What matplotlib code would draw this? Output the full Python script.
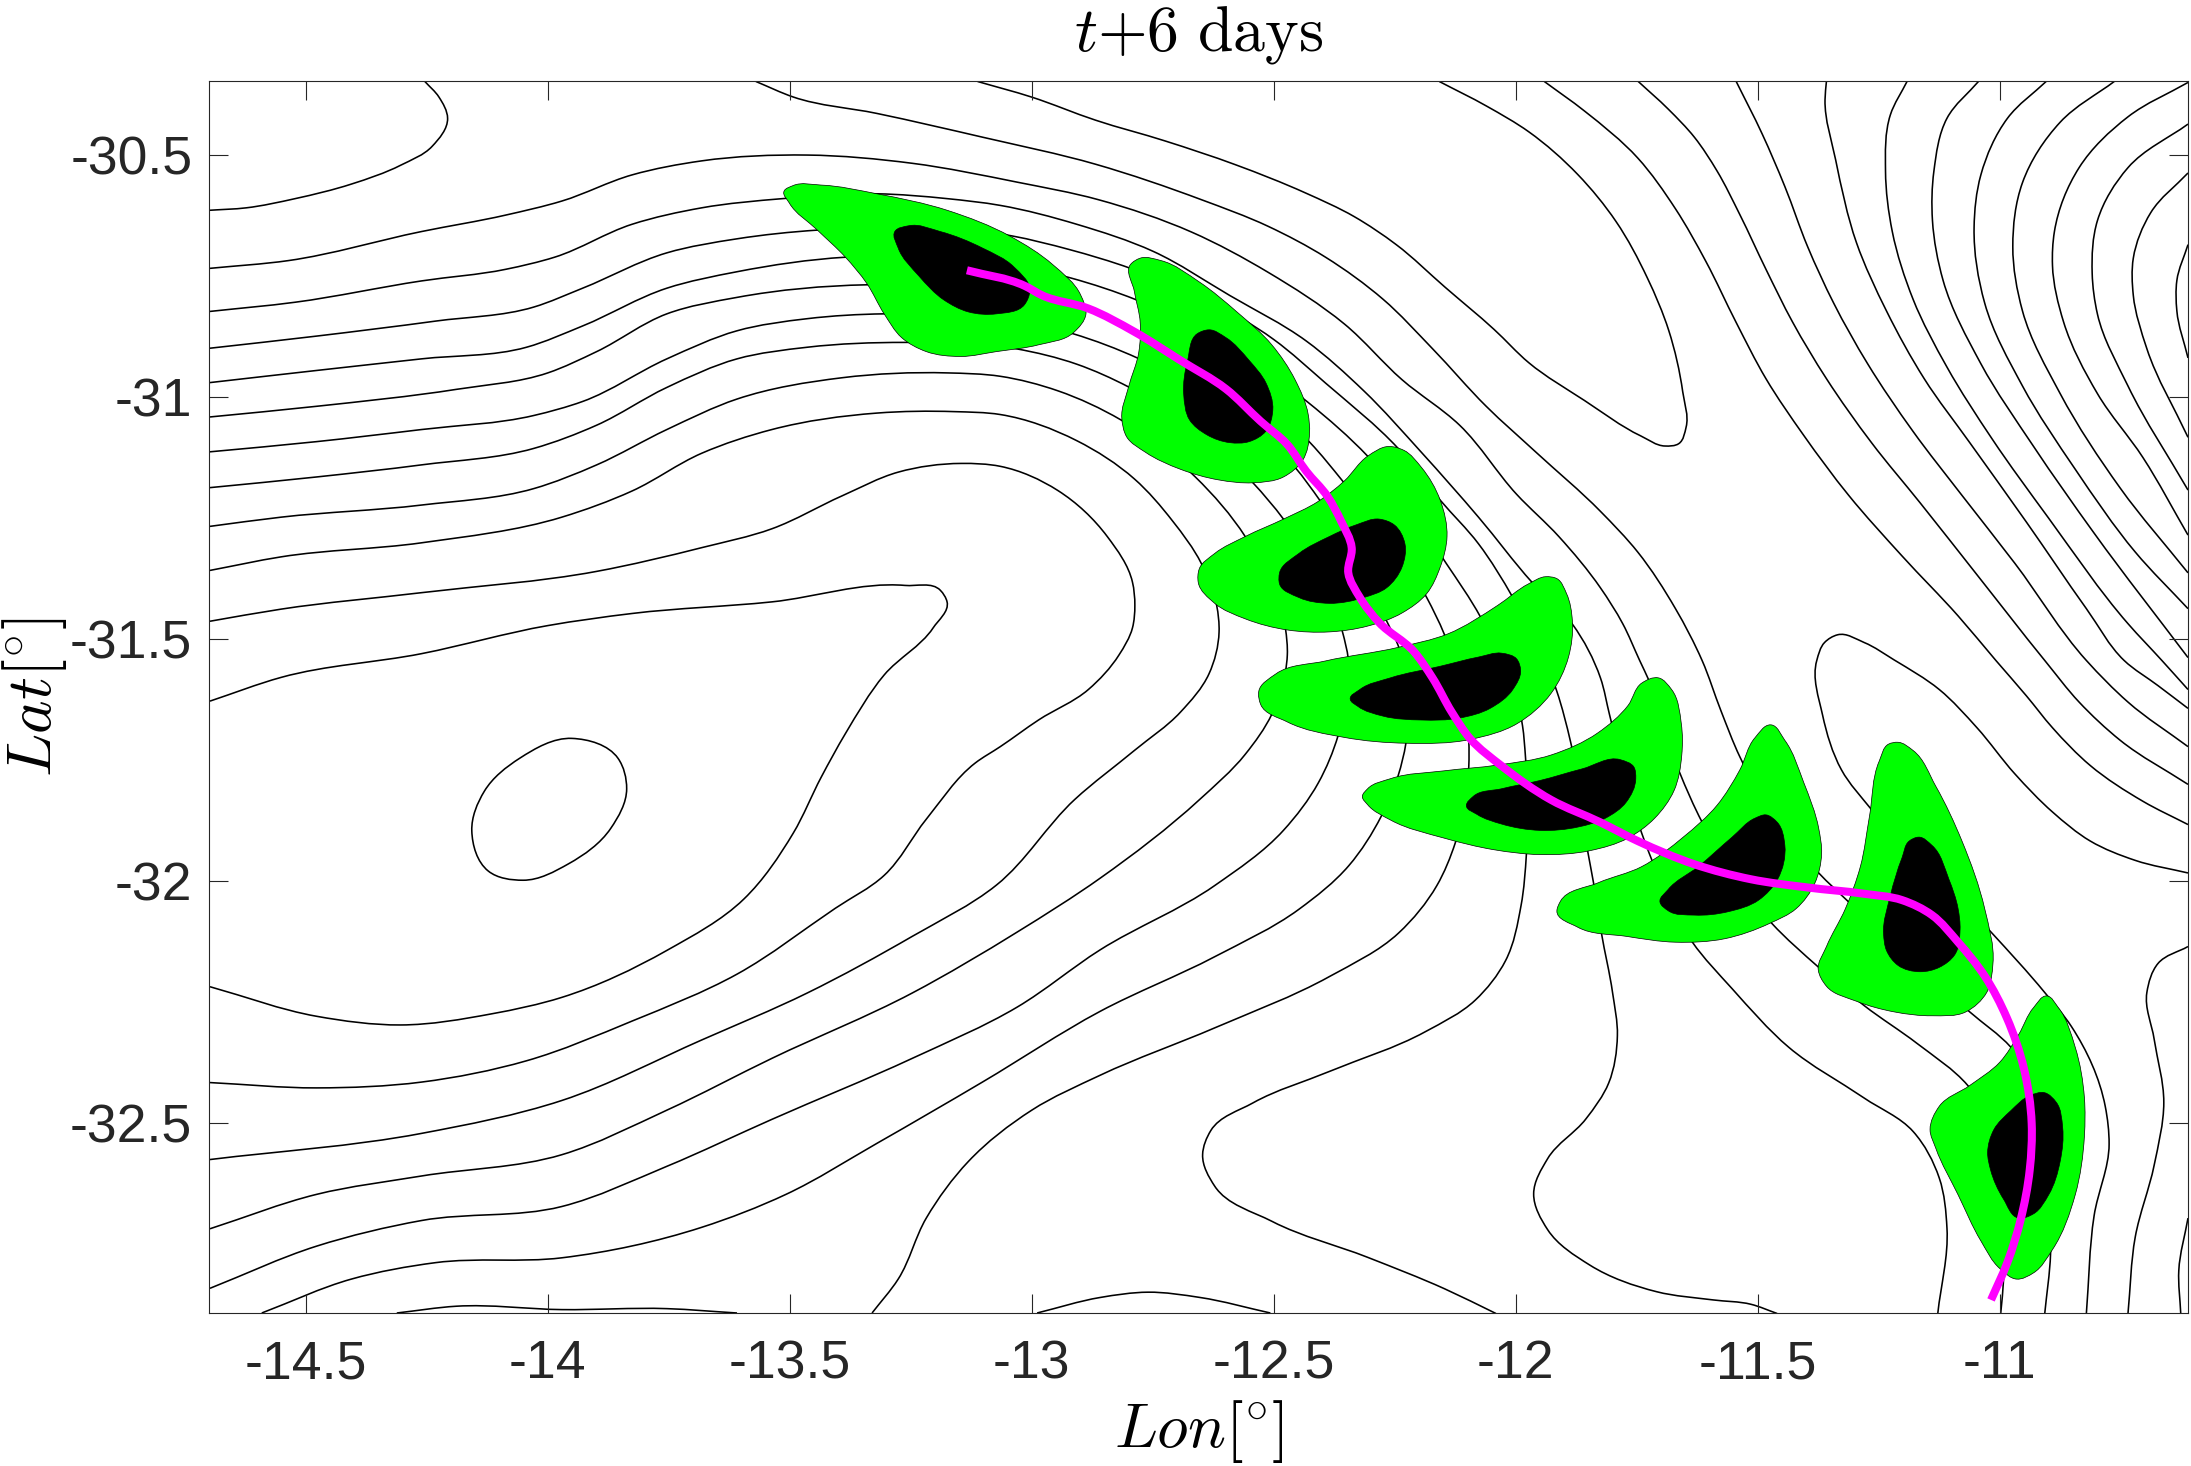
import numpy as np
import matplotlib
matplotlib.use("Agg")
import matplotlib.pyplot as plt
from matplotlib.path import Path
from matplotlib.patches import PathPatch

plt.rcParams['font.family'] = ['Liberation Sans', 'DejaVu Sans']
plt.rcParams['mathtext.fontset'] = 'cm'

# contours, (lon, lat)
c0 = [(-14.698,-30.614),(-14.623,-30.609),(-14.522,-30.590),(-14.406,-30.560),(-14.304,-30.521),(-14.239,-30.482),(-14.207,-30.424),(-14.225,-30.380),(-14.254,-30.348)]
c_tongue = [(-13.112,-30.348),(-13.001,-30.380),(-12.868,-30.428),(-12.724,-30.471),(-12.579,-30.520),(-12.435,-30.578),(-12.334,-30.627),(-12.247,-30.685),(-12.146,-30.773),(-12.045,-30.860),(-11.973,-30.929),(-11.858,-31.007),(-11.742,-31.080),(-11.692,-31.101),(-11.663,-31.096),(-11.648,-31.062),(-11.655,-30.989),(-11.684,-30.862),(-11.728,-30.754),(-11.793,-30.637),(-11.872,-30.540),(-11.973,-30.452),(-12.060,-30.399),(-12.158,-30.348)]
c1 = [(-13.570,-30.348),(-13.493,-30.380),(-13.320,-30.414),(-13.102,-30.463),(-12.868,-30.519),(-12.650,-30.592),(-12.512,-30.647),(-12.393,-30.711),(-12.274,-30.798),(-12.172,-30.900),(-12.061,-31.019),(-11.958,-31.114),(-11.825,-31.236),(-11.748,-31.320),(-11.670,-31.437),(-11.615,-31.544),(-11.576,-31.648),(-11.537,-31.743),(-11.374,-31.983),(-11.312,-32.043),(-11.062,-32.270),(-10.977,-32.343),(-10.895,-32.770),(-10.907,-32.893)]
c_a = [(-14.698,-30.734),(-14.536,-30.718),(-14.261,-30.658),(-14.087,-30.624),(-13.971,-30.595),(-13.826,-30.541),(-13.682,-30.512),(-13.464,-30.500),(-13.247,-30.517),(-13.030,-30.556),(-12.863,-30.592),(-12.670,-30.659),(-12.512,-30.742),(-12.354,-30.849),(-12.235,-30.964),(-12.116,-31.058),(-11.998,-31.201),(-11.911,-31.288),(-11.825,-31.394),(-11.779,-31.468),(-11.744,-31.544),(-11.724,-31.587),(-11.662,-31.774),(-11.615,-31.878),(-11.471,-32.087),(-11.374,-32.178),(-11.280,-32.257),(-11.171,-32.335),(-11.066,-32.422),(-10.992,-32.822),(-10.998,-32.893)]
c_b = [(-14.698,-30.823),(-14.522,-30.804),(-14.261,-30.760),(-14.087,-30.736),(-13.986,-30.711),(-13.826,-30.643),(-13.682,-30.609),(-13.515,-30.590),(-13.320,-30.580),(-13.175,-30.590),(-13.065,-30.604),(-12.907,-30.643),(-12.749,-30.699),(-12.591,-30.790),(-12.433,-30.884),(-12.314,-30.987),(-12.195,-31.114),(-12.077,-31.248),(-11.966,-31.383),(-11.883,-31.469),(-11.825,-31.580),(-11.806,-31.657),(-11.740,-31.900),(-11.724,-31.943),(-11.635,-32.126),(-11.553,-32.222),(-11.436,-32.343),(-11.280,-32.448),(-11.179,-32.517),(-11.125,-32.613),(-11.109,-32.717),(-11.128,-32.893)]
c_c = [(-14.698,-30.899),(-14.478,-30.874),(-14.232,-30.843),(-14.029,-30.814),(-13.928,-30.775),(-13.754,-30.702),(-13.609,-30.673),(-13.443,-30.655),(-13.041,-30.667),(-12.923,-30.695),(-12.796,-30.734),(-12.500,-30.881),(-12.393,-30.971),(-12.243,-31.106),(-12.156,-31.213),(-12.077,-31.303),(-12.006,-31.414),(-11.915,-31.608),(-11.887,-31.711),(-11.851,-31.940),(-11.839,-32.005),(-11.823,-32.107),(-11.800,-32.230),(-11.790,-32.319),(-11.808,-32.417),(-11.855,-32.491),(-11.934,-32.573),(-11.963,-32.646),(-11.934,-32.720),(-11.847,-32.793),(-11.709,-32.848),(-11.592,-32.865),(-11.514,-32.874),(-11.460,-32.893)]
c_d = [(-14.698,-30.970),(-14.478,-30.945),(-14.261,-30.921),(-14.044,-30.897),(-13.928,-30.853),(-13.754,-30.775),(-13.609,-30.741),(-13.385,-30.711),(-12.919,-30.754),(-12.784,-30.799),(-12.429,-31.011),(-12.306,-31.122),(-12.144,-31.343),(-12.073,-31.454),(-11.986,-31.679),(-11.980,-31.742),(-11.978,-31.944),(-11.989,-32.050),(-12.021,-32.164),(-12.084,-32.246),(-12.187,-32.311),(-12.385,-32.393),(-12.543,-32.458),(-12.630,-32.515),(-12.647,-32.565),(-12.622,-32.630),(-12.503,-32.703),(-12.306,-32.777),(-12.147,-32.842),(-12.041,-32.893)]
c_e = [(-14.698,-31.041),(-14.478,-31.019),(-14.189,-30.984),(-14.000,-30.950),(-13.899,-30.906),(-13.754,-30.828),(-13.609,-30.794),(-13.341,-30.768),(-12.887,-30.817),(-12.779,-30.869),(-12.425,-31.094),(-12.358,-31.173),(-12.184,-31.414),(-12.148,-31.489),(-12.097,-31.711),(-12.097,-31.762),(-12.125,-31.921),(-12.163,-32.009),(-12.242,-32.107),(-12.385,-32.197),(-12.622,-32.303),(-12.859,-32.401),(-13.000,-32.473),(-13.131,-32.579),(-13.218,-32.696),(-13.276,-32.822),(-13.330,-32.892)]
c_f = [(-14.698,-31.113),(-14.478,-31.092),(-14.261,-31.067),(-14.029,-31.038),(-13.928,-31.009),(-13.754,-30.921),(-13.609,-30.863),(-13.464,-30.838),(-13.305,-30.828),(-12.915,-30.869),(-12.780,-30.920),(-12.456,-31.145),(-12.405,-31.213),(-12.267,-31.462),(-12.243,-31.513),(-12.227,-31.715),(-12.243,-31.782),(-12.278,-31.866),(-12.345,-31.968),(-12.448,-32.058),(-12.622,-32.156),(-12.859,-32.269),(-13.102,-32.415),(-13.319,-32.541),(-13.508,-32.647),(-13.682,-32.715),(-13.971,-32.778),(-14.232,-32.788),(-14.406,-32.822),(-14.591,-32.892)]
c_g = [(-14.698,-31.187),(-14.478,-31.165),(-14.261,-31.140),(-14.029,-31.106),(-13.899,-31.058),(-13.754,-30.980),(-13.609,-30.921),(-13.464,-30.897),(-13.262,-30.887),(-13.033,-30.900),(-12.907,-30.932),(-12.800,-30.979),(-12.543,-31.177),(-12.480,-31.252),(-12.358,-31.485),(-12.346,-31.541),(-12.367,-31.699),(-12.408,-31.797),(-12.480,-31.895),(-12.622,-32.009),(-12.859,-32.142),(-13.030,-32.260),(-13.247,-32.366),(-13.537,-32.492),(-13.754,-32.589),(-13.971,-32.672),(-14.261,-32.701),(-14.478,-32.754),(-14.698,-32.841)]
c_h = [(-14.698,-31.267),(-14.551,-31.248),(-14.261,-31.223),(-14.029,-31.189),(-13.899,-31.140),(-13.754,-31.067),(-13.609,-31.004),(-13.392,-30.960),(-13.175,-30.950),(-13.065,-30.957),(-12.946,-30.987),(-12.816,-31.047),(-12.662,-31.165),(-12.559,-31.288),(-12.476,-31.477),(-12.472,-31.533),(-12.476,-31.568),(-12.504,-31.655),(-12.559,-31.738),(-12.654,-31.832),(-12.859,-31.994),(-13.030,-32.105),(-13.247,-32.231),(-13.537,-32.366),(-13.754,-32.473),(-13.971,-32.565),(-14.261,-32.609),(-14.478,-32.647),(-14.698,-32.718)]
c_i = [(-14.698,-31.358),(-14.551,-31.330),(-14.261,-31.301),(-13.971,-31.248),(-13.826,-31.194),(-13.682,-31.116),(-13.537,-31.067),(-13.320,-31.033),(-13.160,-31.030),(-13.065,-31.036),(-12.907,-31.090),(-12.788,-31.169),(-12.709,-31.256),(-12.650,-31.343),(-12.618,-31.430),(-12.613,-31.485),(-12.634,-31.572),(-12.693,-31.651),(-12.788,-31.730),(-12.911,-31.831),(-13.073,-32.008),(-13.247,-32.114),(-13.464,-32.231),(-13.682,-32.328),(-13.971,-32.453),(-14.261,-32.521),(-14.698,-32.575)]
c_j = [(-14.698,-31.463),(-14.551,-31.438),(-14.261,-31.404),(-13.899,-31.360),(-13.682,-31.311),(-13.537,-31.272),(-13.392,-31.204),(-13.276,-31.155),(-13.146,-31.137),(-13.065,-31.143),(-12.946,-31.193),(-12.844,-31.288),(-12.792,-31.382),(-12.787,-31.430),(-12.792,-31.477),(-12.820,-31.533),(-12.883,-31.604),(-12.986,-31.667),(-13.065,-31.722),(-13.117,-31.756),(-13.218,-31.872),(-13.305,-31.988),(-13.406,-32.056),(-13.609,-32.192),(-13.826,-32.289),(-14.044,-32.371),(-14.261,-32.415),(-14.478,-32.427),(-14.698,-32.416)]
c_k = [(-14.698,-31.628),(-14.551,-31.579),(-14.261,-31.530),(-14.000,-31.472),(-13.826,-31.447),(-13.537,-31.423),(-13.262,-31.389),(-13.189,-31.399),(-13.175,-31.423),(-13.204,-31.477),(-13.305,-31.574),(-13.385,-31.695),(-13.435,-31.785),(-13.493,-31.901),(-13.595,-32.037),(-13.754,-32.143),(-13.971,-32.240),(-14.116,-32.274),(-14.304,-32.297),(-14.478,-32.279),(-14.698,-32.218)]
c_ring = [(-13.950,-31.705),(-13.855,-31.746),(-13.837,-31.809),(-13.870,-31.891),(-13.957,-31.964),(-14.051,-31.998),(-14.123,-31.979),(-14.157,-31.896),(-14.131,-31.814),(-14.058,-31.746)]
c_bot1 = [(-14.312,-32.892),(-14.189,-32.878),(-13.971,-32.885),(-13.754,-32.883),(-13.609,-32.892)]
c_bot2 = [(-12.989,-32.892),(-12.859,-32.860),(-12.760,-32.849),(-12.652,-32.860),(-12.507,-32.892)]
t1 = [(-11.941,-30.348),(-11.858,-30.409),(-11.748,-30.506),(-11.670,-30.611),(-11.607,-30.720),(-11.545,-30.845),(-11.483,-30.962),(-11.405,-31.079),(-11.312,-31.203),(-11.202,-31.328),(-11.086,-31.452),(-11.008,-31.544),(-10.945,-31.617),(-10.891,-31.683),(-10.813,-31.761),(-10.704,-31.835),(-10.611,-31.883)]
t2 = [(-11.748,-30.347),(-11.685,-30.405),(-11.631,-30.463),(-11.584,-30.533),(-11.537,-30.623),(-11.483,-30.736),(-11.428,-30.845),(-11.358,-30.962),(-11.265,-31.094),(-11.164,-31.219),(-11.047,-31.367),(-10.907,-31.544),(-10.836,-31.630),(-10.751,-31.709),(-10.611,-31.800)]
t3 = [(-11.545,-30.347),(-11.491,-30.456),(-11.444,-30.565),(-11.397,-30.689),(-11.343,-30.806),(-11.273,-30.931),(-11.179,-31.071),(-11.078,-31.203),(-10.969,-31.343),(-10.821,-31.544),(-10.735,-31.630),(-10.611,-31.722)]
t4 = [(-11.358,-30.347),(-11.361,-30.386),(-11.339,-30.510),(-11.296,-30.681),(-11.234,-30.822),(-11.156,-30.962),(-11.062,-31.094),(-10.945,-31.258),(-10.821,-31.437),(-10.743,-31.544),(-10.673,-31.596),(-10.611,-31.643)]
t5 = [(-11.191,-30.347),(-11.226,-30.417),(-11.236,-30.533),(-11.222,-30.658),(-11.179,-30.798),(-11.109,-30.938),(-11.016,-31.086),(-10.899,-31.250),(-10.735,-31.468),(-10.665,-31.544),(-10.611,-31.604)]
t6 = [(-11.043,-30.347),(-11.109,-30.424),(-11.136,-30.533),(-11.139,-30.635),(-11.117,-30.759),(-11.039,-30.931),(-10.930,-31.102),(-10.805,-31.281),(-10.611,-31.538)]
t7 = [(-10.903,-30.347),(-10.984,-30.424),(-11.039,-30.541),(-11.053,-30.650),(-11.031,-30.806),(-10.953,-30.977),(-10.844,-31.149),(-10.720,-31.320),(-10.611,-31.437)]
t8 = [(-10.762,-30.347),(-10.875,-30.432),(-10.953,-30.557),(-10.973,-30.689),(-10.953,-30.822),(-10.875,-30.993),(-10.751,-31.188),(-10.611,-31.363)]
t9 = [(-10.611,-30.350),(-10.735,-30.421),(-10.836,-30.526),(-10.887,-30.658),(-10.891,-30.728),(-10.868,-30.845),(-10.798,-30.993),(-10.704,-31.125),(-10.611,-31.285)]
n1 = [(-10.611,-30.436),(-10.735,-30.526),(-10.798,-30.635),(-10.809,-30.744),(-10.798,-30.829),(-10.735,-30.977),(-10.611,-31.192)]
n2 = [(-10.611,-30.537),(-10.688,-30.619),(-10.724,-30.713),(-10.724,-30.790),(-10.696,-30.900),(-10.611,-31.083)]
n3 = [(-10.611,-30.685),(-10.634,-30.759),(-10.634,-30.822),(-10.611,-30.919)]
t_low = [(-10.611,-31.983),(-10.720,-31.957),(-10.813,-31.917),(-10.891,-31.857),(-10.969,-31.778),(-11.047,-31.683),(-11.125,-31.604),(-11.218,-31.543),(-11.280,-31.507),(-11.335,-31.491),(-11.362,-31.507),(-11.378,-31.544),(-11.366,-31.657),(-11.327,-31.770),(-11.265,-31.852),(-11.019,-32.104),(-10.907,-32.230),(-10.852,-32.300),(-10.782,-32.465),(-10.774,-32.543),(-10.805,-32.691),(-10.821,-32.893)]
r1 = [(-10.611,-32.135),(-10.673,-32.170),(-10.696,-32.230),(-10.681,-32.326),(-10.661,-32.457),(-10.681,-32.587),(-10.720,-32.735),(-10.735,-32.893)]
r2 = [(-10.611,-32.696),(-10.630,-32.804),(-10.626,-32.893)]

# green and black regions, one per time step
g1 = [(-13.512,-30.575),(-13.493,-30.563),(-13.435,-30.562),(-13.320,-30.580),(-13.175,-30.614),(-13.044,-30.668),(-12.957,-30.726),(-12.899,-30.789),(-12.888,-30.828),(-12.914,-30.867),(-12.986,-30.892),(-13.073,-30.906),(-13.146,-30.916),(-13.218,-30.906),(-13.269,-30.877),(-13.305,-30.828),(-13.341,-30.765),(-13.385,-30.711),(-13.443,-30.655),(-13.501,-30.599)]
k1 = [(-13.283,-30.658),(-13.254,-30.646),(-13.189,-30.658),(-13.102,-30.692),(-13.037,-30.731),(-13.004,-30.780),(-13.015,-30.809),(-13.073,-30.828),(-13.131,-30.824),(-13.182,-30.799),(-13.233,-30.750),(-13.276,-30.692)]
g2 = [(-12.796,-30.726),(-12.776,-30.713),(-12.733,-30.718),(-12.654,-30.762),(-12.575,-30.825),(-12.504,-30.892),(-12.456,-30.964),(-12.429,-31.035),(-12.426,-31.074),(-12.440,-31.130),(-12.480,-31.165),(-12.543,-31.177),(-12.614,-31.171),(-12.693,-31.149),(-12.765,-31.114),(-12.804,-31.082),(-12.814,-31.043),(-12.800,-30.979),(-12.779,-30.908),(-12.776,-30.845),(-12.788,-30.782)]
k2 = [(-12.658,-30.869),(-12.634,-30.861),(-12.599,-30.877),(-12.551,-30.924),(-12.516,-30.971),(-12.502,-31.027),(-12.516,-31.070),(-12.551,-31.092),(-12.591,-31.094),(-12.638,-31.078),(-12.674,-31.047),(-12.686,-30.995),(-12.678,-30.924)]
g3 = [(-12.263,-31.102),(-12.306,-31.122),(-12.354,-31.173),(-12.409,-31.216),(-12.480,-31.252),(-12.559,-31.288),(-12.622,-31.323),(-12.654,-31.355),(-12.656,-31.383),(-12.622,-31.426),(-12.559,-31.458),(-12.472,-31.481),(-12.385,-31.485),(-12.306,-31.473),(-12.235,-31.446),(-12.184,-31.406),(-12.156,-31.351),(-12.142,-31.288),(-12.156,-31.213),(-12.195,-31.145),(-12.231,-31.110)]
k3 = [(-12.282,-31.252),(-12.251,-31.264),(-12.229,-31.303),(-12.235,-31.351),(-12.267,-31.394),(-12.314,-31.414),(-12.385,-31.426),(-12.448,-31.414),(-12.488,-31.386),(-12.488,-31.363),(-12.448,-31.323),(-12.385,-31.288),(-12.330,-31.264)]
g4 = [(-11.938,-31.371),(-11.974,-31.386),(-12.037,-31.430),(-12.140,-31.489),(-12.243,-31.517),(-12.393,-31.545),(-12.496,-31.572),(-12.531,-31.608),(-12.527,-31.635),(-12.472,-31.671),(-12.354,-31.703),(-12.227,-31.715),(-12.093,-31.707),(-11.998,-31.675),(-11.927,-31.612),(-11.891,-31.537),(-11.883,-31.462),(-11.895,-31.406),(-11.915,-31.375)]
k4 = [(-12.029,-31.529),(-11.998,-31.541),(-11.990,-31.564),(-12.006,-31.604),(-12.053,-31.643),(-12.116,-31.663),(-12.195,-31.667),(-12.274,-31.659),(-12.326,-31.639),(-12.342,-31.624),(-12.322,-31.604),(-12.259,-31.580),(-12.156,-31.556),(-12.077,-31.537)]
g5 = [(-11.705,-31.580),(-11.678,-31.604),(-11.658,-31.674),(-11.657,-31.740),(-11.673,-31.813),(-11.713,-31.870),(-11.768,-31.911),(-11.847,-31.937),(-11.950,-31.945),(-12.045,-31.935),(-12.148,-31.911),(-12.258,-31.874),(-12.306,-31.842),(-12.317,-31.825),(-12.306,-31.809),(-12.258,-31.788),(-12.148,-31.772),(-12.037,-31.760),(-11.926,-31.739),(-11.831,-31.694),(-11.768,-31.637),(-11.740,-31.591)]
k5 = [(-11.784,-31.749),(-11.756,-31.764),(-11.752,-31.788),(-11.772,-31.837),(-11.815,-31.870),(-11.871,-31.888),(-11.950,-31.895),(-12.029,-31.882),(-12.080,-31.862),(-12.102,-31.844),(-12.088,-31.825),(-12.029,-31.809),(-11.950,-31.792),(-11.863,-31.768)]
g6 = [(-11.473,-31.677),(-11.444,-31.709),(-11.405,-31.796),(-11.374,-31.891),(-11.368,-31.943),(-11.382,-32.004),(-11.421,-32.057),(-11.475,-32.087),(-11.569,-32.119),(-11.670,-32.126),(-11.771,-32.114),(-11.872,-32.095),(-11.915,-32.061),(-11.908,-32.042),(-11.829,-32.003),(-11.740,-31.970),(-11.654,-31.909),(-11.584,-31.843),(-11.537,-31.770),(-11.506,-31.704)]
k6 = [(-11.483,-31.863),(-11.460,-31.878),(-11.444,-31.926),(-11.459,-31.996),(-11.498,-32.039),(-11.561,-32.063),(-11.631,-32.070),(-11.685,-32.061),(-11.702,-32.043),(-11.685,-32.017),(-11.623,-31.970),(-11.553,-31.909),(-11.506,-31.870)]
g7 = [(-11.210,-31.713),(-11.179,-31.730),(-11.132,-31.804),(-11.078,-31.917),(-11.031,-32.057),(-11.014,-32.170),(-11.027,-32.230),(-11.070,-32.270),(-11.140,-32.278),(-11.218,-32.270),(-11.296,-32.248),(-11.358,-32.217),(-11.375,-32.183),(-11.358,-32.135),(-11.319,-32.057),(-11.288,-31.970),(-11.269,-31.865),(-11.249,-31.752),(-11.230,-31.717)]
k7 = [(-11.167,-31.909),(-11.140,-31.926),(-11.105,-31.996),(-11.086,-32.057),(-11.082,-32.100),(-11.093,-32.152),(-11.125,-32.178),(-11.164,-32.187),(-11.210,-32.174),(-11.234,-32.143),(-11.240,-32.109),(-11.226,-32.030),(-11.202,-31.952),(-11.187,-31.917)]
g8 = [(-10.903,-32.237),(-10.879,-32.261),(-10.844,-32.343),(-10.825,-32.448),(-10.825,-32.526),(-10.844,-32.648),(-10.891,-32.761),(-10.930,-32.809),(-10.965,-32.822),(-11.000,-32.800),(-11.039,-32.743),(-11.086,-32.648),(-11.132,-32.552),(-11.144,-32.513),(-11.125,-32.465),(-11.062,-32.422),(-11.000,-32.374),(-10.961,-32.317),(-10.930,-32.261)]
k8 = [(-10.907,-32.437),(-10.883,-32.457),(-10.870,-32.509),(-10.875,-32.578),(-10.899,-32.648),(-10.930,-32.687),(-10.961,-32.696),(-10.992,-32.657),(-11.019,-32.596),(-11.025,-32.561),(-11.012,-32.513),(-10.977,-32.474),(-10.938,-32.443)]

# magenta trajectory
track = [(-13.134,-30.738),(-13.015,-30.770),(-12.978,-30.790),(-12.883,-30.817),(-12.788,-30.865),(-12.693,-30.924),(-12.599,-30.983),(-12.527,-31.050),(-12.472,-31.098),(-12.433,-31.153),(-12.389,-31.205),(-12.361,-31.256),(-12.339,-31.311),(-12.346,-31.363),(-12.322,-31.414),(-12.282,-31.466),(-12.211,-31.525),(-12.172,-31.580),(-12.132,-31.651),(-12.093,-31.707),(-12.029,-31.762),(-11.927,-31.832),(-11.826,-31.878),(-11.748,-31.917),(-11.631,-31.965),(-11.514,-31.996),(-11.397,-32.013),(-11.280,-32.026),(-11.202,-32.039),(-11.140,-32.070),(-11.086,-32.126),(-11.031,-32.196),(-10.985,-32.283),(-10.950,-32.387),(-10.934,-32.500),(-10.938,-32.596),(-10.957,-32.700),(-10.984,-32.787),(-11.018,-32.865)]

lon_ticks = [-14.5,-14,-13.5,-13,-12.5,-12,-11.5,-11]
lon_labels = ["-14.5","-14","-13.5","-13","-12.5","-12","-11.5","-11"]
lat_ticks = [-32.5,-32,-31.5,-31,-30.5]
lat_labels = ["-32.5","-32","-31.5","-31","-30.5"]

open_lines = [c0,c_tongue,c1,c_a,c_b,c_c,c_d,c_e,c_f,c_g,c_h,c_i,c_j,c_k,c_bot1,c_bot2,
              t1,t2,t3,t4,t5,t6,t7,t8,t9,n1,n2,n3,t_low,r1,r2]
greens = [g1,g2,g3,g4,g5,g6,g7,g8]
blacks = [k1,k2,k3,k4,k5,k6,k7,k8]


def tangent(a, b, c):
    # direction at b, nearer neighbour counts more, so uneven spacing does not overshoot
    d1, d2 = b - a, c - b
    l1, l2 = np.hypot(*d1), np.hypot(*d2)
    if l1 == 0:
        t = d2
    elif l2 == 0:
        t = d1
    else:
        t = d1 / l1 * l2 + d2 / l2 * l1
    return t / np.hypot(*t)


def smooth_path(pts, closed=False):
    p = np.array(pts)
    n = len(p)
    if closed:
        tan = [tangent(p[i-1], p[i], p[(i+1) % n]) for i in range(n)]
    else:
        tan = [tangent(p[max(i-1, 0)], p[i], p[min(i+1, n-1)]) for i in range(n)]
    verts = [p[0]]
    codes = [Path.MOVETO]
    for i in range(n if closed else n - 1):
        a, b = p[i], p[(i+1) % n]
        h = np.hypot(*(b - a)) / 3
        verts += [a + tan[i]*h, b - tan[(i+1) % n]*h, b]
        codes += [Path.CURVE4, Path.CURVE4, Path.CURVE4]
    return Path(verts, codes)


fig = plt.figure(figsize=(21.91, 14.66), dpi=100)
ax = fig.add_axes([209/2191, (1466-1313)/1466, (2188-209)/2191, (1313-81)/1466])

for line in open_lines:
    ax.add_patch(PathPatch(smooth_path(line), fc="none", ec="black", lw=1.15, zorder=1))
ax.add_patch(PathPatch(smooth_path(c_ring, True), fc="none", ec="black", lw=1.15, zorder=1))

for g in greens:
    ax.add_patch(PathPatch(smooth_path(g, True), fc="#00ff00", ec="black", lw=0.5, zorder=2))
for k in blacks:
    ax.add_patch(PathPatch(smooth_path(k, True), fc="black", ec="black", lw=0.5, zorder=3))

ax.add_patch(PathPatch(smooth_path(track), fc="none", ec="#ff00ff", lw=5.8, capstyle="butt", zorder=4))

ax.set_xlim(-14.7, -10.611)
ax.set_ylim(-32.892, -30.347)
ax.set_xticks(lon_ticks)
ax.set_xticklabels(lon_labels)
ax.set_yticks(lat_ticks)
ax.set_yticklabels(lat_labels)
ax.tick_params(direction="in", length=14, width=0.8, top=True, right=True, color="#262626",
               labelcolor="#262626", labelsize=38.5)
ax.tick_params(axis="x", pad=19)
ax.tick_params(axis="y", pad=12)
for s in ax.spines.values():
    s.set_linewidth(0.8)
    s.set_color("#262626")

ax.set_xlabel(r"$Lon[^{\circ}]$", fontsize=45.5, labelpad=6)
ax.set_ylabel(r"$Lat[^{\circ}]$", fontsize=46, labelpad=1)
ax.set_title(r"$t\mathrm{+6\ days}$", fontsize=46, pad=22)

fig.savefig("out.png", dpi=100)
